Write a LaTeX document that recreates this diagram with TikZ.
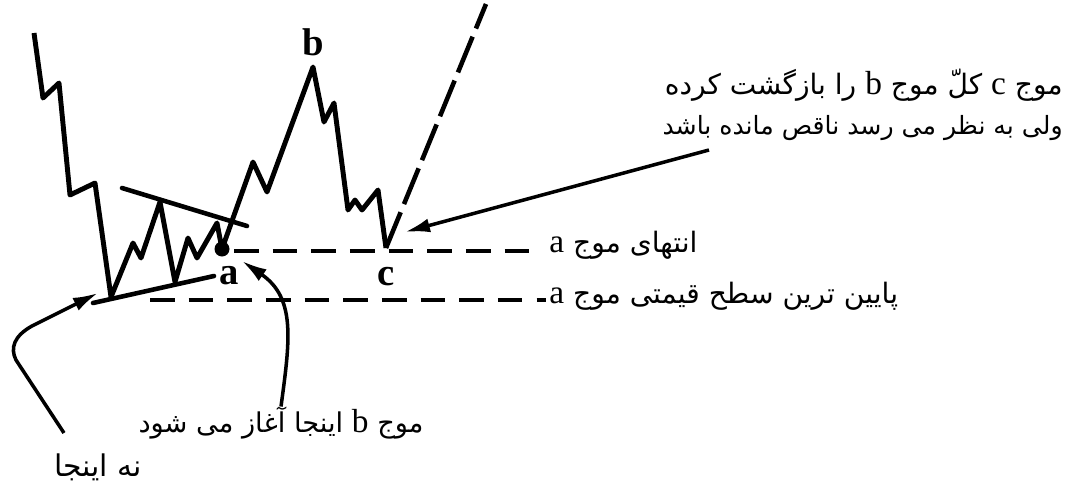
\documentclass[tikz,border=0pt]{standalone}
\usepackage{fontspec}
\setmainfont{Liberation Serif}
\newfontfamily\fa[Script=Arabic]{DejaVu Sans}
\TeXXeTstate=1
\usetikzlibrary{arrows.meta}
\newcommand\wl[1]{{\rmfamily\fontsize{19}{19}\selectfont #1}}
\tikzset{
  wave/.style={line width=2.8pt, line join=round},
  trend/.style={line width=2.6pt, line cap=round},
  level/.style={line width=2.6pt, dash pattern=on 14pt off 8pt},
  proj/.style={line width=2.6pt, dash pattern=on 22pt off 5pt},
  pointer/.style={line width=2pt, ->},
  wavelbl/.style={font=\fontsize{22}{24}\selectfont\bfseries, inner sep=1pt},
  falbl/.style={font=\fa\fontsize{16}{18}\selectfont, inner sep=0pt}
}

\begin{document}
\begin{tikzpicture}[x=0.02cm, y=-0.02cm, >={Latex[length=5mm, width=2.8mm]}]
\useasboundingbox (0,0) rectangle (1080,487);

% key points of the wave
\coordinate (bot) at (111,297);
\coordinate (aend) at (222,249);
\coordinate (bpk) at (313,67);
\coordinate (cend) at (386,248);

% price path
\draw[wave] (34,33) -- (43,98) -- (59,83) -- (70,195) -- (95,183) -- (bot)
  -- (133,243) -- (141,258) -- (160,202) -- (175,282) -- (188,238) -- (197,258)
  -- (217,223) -- (aend) -- (253,162) -- (267,192) -- (bpk) -- (324,122)
  -- (334,103) -- (348,210) -- (355,200) -- (362,210) -- (378,190) -- (cend);
\fill (aend) circle[radius=7.5];

% triangle borders
\draw[trend] (122,188) -- (247,226);
\draw[trend] (93,303) -- (214,276);

% levels
\draw[level] (234,251) -- (541,251);
\draw[level] (150,300) -- (546,300);
\draw[proj] (cend) -- (486,4);

% wave letters
\node[wavelbl, above=5pt] at (bpk) {b};
\node[wavelbl, below=10pt] at (cend) {c};
\node[wavelbl] at (229,276) {a};

% texts
\node[falbl, anchor=west] (endA) at (549,245) {\beginR انتهای موج \wl{a}\endR};
\node[falbl, anchor=west] (lowA) at (549,296) {\beginR پایین ترین سطح قیمتی موج \wl{a}\endR};
\node[falbl, anchor=east] (retrace) at (1063,85)
  {\beginR موج \wl{c} کلّ موج \wl{b} را بازگشت کرده\endR};
\node[falbl, anchor=east, font=\fa\fontsize{14.3}{16}\selectfont] (incomplete) at (1063,128)
  {\beginR ولی به نظر می رسد ناقص مانده باشد\endR};
\node[falbl, font=\fa\fontsize{15.5}{17}\selectfont] (bstart) at (281,423)
  {\beginR موج \wl{b} اینجا آغاز می شود\endR};
\node[falbl, font=\fa\fontsize{17}{19}\selectfont] (nothere) at (98,467) {\beginR نه اینجا\endR};

% pointers
\coordinate (ctail) at (709,150);
\coordinate (ctip) at (405,232);
\coordinate (ntail) at (64,433);
\coordinate (ntip) at (98,293);
\coordinate (atip) at (242,261);
\draw[pointer] (ctail) -- (ctip);
\draw[pointer] (ntail) -- (16,360) .. controls (10,348) and (14,336) .. (32,326) -- (ntip);
\draw[pointer] (bstart.north) .. controls (290,340) and (296,298) .. (atip);
\end{tikzpicture}
\end{document}
